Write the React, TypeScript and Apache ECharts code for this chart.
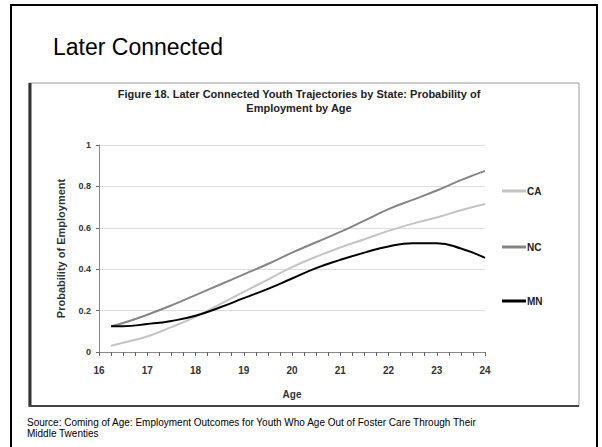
import React, { useEffect, useRef } from "react";
import * as echarts from "echarts";

const ages = [16.25, 16.5, 17, 17.5, 18, 18.5, 19, 19.5, 20, 20.5, 21, 21.5, 22, 22.5, 23, 23.5, 24];
const caValues = [0.03, 0.045, 0.075, 0.12, 0.17, 0.23, 0.29, 0.35, 0.41, 0.46, 0.505, 0.545, 0.585, 0.62, 0.65, 0.685, 0.715];
const ncValues = [0.125, 0.14, 0.18, 0.225, 0.275, 0.325, 0.375, 0.425, 0.48, 0.53, 0.58, 0.635, 0.69, 0.735, 0.78, 0.83, 0.875];
const mnValues = [0.125, 0.125, 0.135, 0.15, 0.175, 0.215, 0.26, 0.305, 0.355, 0.405, 0.445, 0.48, 0.51, 0.525, 0.525, 0.5, 0.455];
const seriesNames = ["CA", "NC", "MN"];
const seriesColors = ["#c4c4c4", "#858585", "#000000"];

const slideTitle = "Later Connected";
const chartTitle = "Figure 18. Later Connected Youth Trajectories by State: Probability of\nEmployment by Age";
const sourceText = "Source: Coming of Age: Employment Outcomes for Youth Who Age Out of Foster Care Through Their\nMiddle Twenties";

export default function App() {
  const ref = useRef<HTMLDivElement>(null);
  useEffect(() => {
    if (!ref.current) return;
    const chart = echarts.init(ref.current, null, { renderer: "svg" });
    const all = [caValues, ncValues, mnValues];
    const legendTops = [181, 237, 291];
    chart.setOption({
      animation: false,
      backgroundColor: "#ffffff",
      textStyle: { fontFamily: "Liberation Sans, Arial, sans-serif" },
      grid: { left: 99, right: 117, top: 145, bottom: 95, containLabel: false },
      legend: seriesNames.map((n, i) => ({
        data: [n],
        left: 497,
        top: legendTops[i],
        icon: "rect",
        itemWidth: 24,
        itemHeight: 3,
        textStyle: { fontSize: 10, fontWeight: "bold", color: "#222", padding: [0, 0, 0, -4] },
        selectedMode: false,
      })),
      xAxis: {
        type: "value",
        min: 16,
        max: 24,
        interval: 1,
        name: "Age",
        nameLocation: "middle",
        nameGap: 37,
        nameTextStyle: { fontSize: 10, fontWeight: "bold", color: "#333" },
        axisLine: { show: true, lineStyle: { color: "#8a8a8a", width: 1 } },
        axisTick: { show: true, length: 4, lineStyle: { color: "#666" } },
        minorTick: { show: true, splitNumber: 4, length: 4, lineStyle: { color: "#666" } },
        axisLabel: { fontSize: 10, fontWeight: "bold", color: "#333", margin: 13 },
        splitLine: { show: false },
      },
      yAxis: {
        type: "value",
        min: 0,
        max: 1,
        interval: 0.2,
        name: "Probability of Employment",
        nameLocation: "middle",
        nameGap: 33,
        nameTextStyle: { fontSize: 11, fontWeight: "bold", color: "#333" },
        axisLine: { show: true, lineStyle: { color: "#8a8a8a", width: 1 } },
        axisTick: { show: true, length: 3, lineStyle: { color: "#666" } },
        axisLabel: { fontSize: 9, fontWeight: "bold", color: "#333", margin: 8 },
        splitLine: { show: true, lineStyle: { color: "#dcdcdc", width: 1 } },
      },
      series: seriesNames.map((n, i) => ({
        name: n,
        type: "line",
        smooth: true,
        symbol: "none",
        color: seriesColors[i],
        lineStyle: { width: 2, color: seriesColors[i] },
        data: ages.map((a, j) => [a, all[i][j]]),
      })),
      graphic: [
        {
          type: "rect",
          shape: { x: 11, y: 5, width: 586, height: 460 },
          style: { fill: "none", stroke: "#000", lineWidth: 2 },
          silent: true,
        },
        {
          type: "rect",
          shape: { x: 29, y: 83, width: 550, height: 323 },
          style: { fill: "none", stroke: "#9a9a9a", lineWidth: 1 },
          silent: true,
        },
        {
          type: "line",
          shape: { x1: 30, y1: 83, x2: 30, y2: 407 },
          style: { stroke: "#333", lineWidth: 3 },
          silent: true,
        },
        {
          type: "line",
          shape: { x1: 29, y1: 406, x2: 579, y2: 406 },
          style: { stroke: "#444", lineWidth: 2 },
          silent: true,
        },
        {
          type: "text",
          left: 53,
          top: 35,
          style: { text: slideTitle, font: "23px 'Liberation Sans', Arial, sans-serif", fill: "#000" },
        },
        {
          type: "text",
          x: 299,
          y: 87,
          style: {
            text: chartTitle,
            font: "bold 11px 'Liberation Sans', Arial, sans-serif",
            fill: "#222",
            align: "center",
            verticalAlign: "top",
            lineHeight: 14,
          },
        },
        {
          type: "text",
          left: 27,
          top: 417,
          style: {
            text: sourceText,
            font: "10px 'Liberation Sans', Arial, sans-serif",
            fill: "#000",
            lineHeight: 11,
          },
        },
      ],
    });
    return () => chart.dispose();
  }, []);
  return (
    <div
      ref={ref}
      style={{ position: "fixed", left: 0, top: 0, width: 602, height: 447, background: "#fff" }}
    />
  );
}
